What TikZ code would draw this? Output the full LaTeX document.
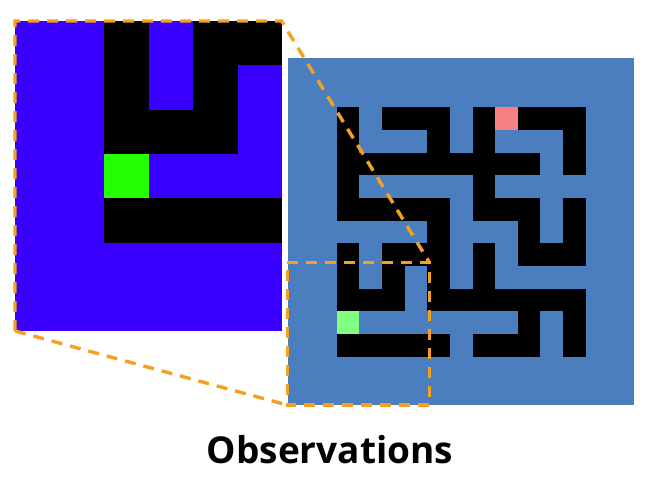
\documentclass[tikz,border=0pt]{standalone}
\usepackage{fontspec}
\setmainfont{Open Sans}
\definecolor{mazebg}{RGB}{75,126,190}
\definecolor{zoombg}{RGB}{58,0,255}
\definecolor{zoomgreen}{RGB}{36,255,4}
\definecolor{goalpink}{RGB}{248,128,128}
\definecolor{startgreen}{RGB}{128,255,128}
\definecolor{spyorange}{RGB}{245,160,30}
\tikzset{
  spyline/.style={draw=spyorange, line width=3.4pt, dash pattern=on 11pt off 8pt},
  wall/.style={fill=black},
  title/.style={font=\bfseries\fontsize{37}{44}\selectfont, anchor=base, inner sep=0pt}
}
\begin{document}
\begin{tikzpicture}[x=1pt,y=-1pt]
\useasboundingbox (0,0) rectangle (648,483);
% ---------- maze ----------
\def\mx{336.7}\def\my{107.3}\def\mw{22.636}\def\mh{22.67}
\fill[mazebg] (287.7,58.3) rectangle (634.3,405);
\foreach \r/\a/\b in {0/0/0,0/2/4,0/6/6,0/8/10,
  1/0/0,1/4/4,1/6/6,1/10/10,
  2/0/8,2/10/10,
  3/0/0,3/6/6,
  4/0/4,4/6/8,4/10/10,
  5/4/4,5/8/8,5/10/10,
  6/0/0,6/2/4,6/6/6,6/8/10,
  7/0/0,7/2/2,7/4/4,7/6/6,
  8/0/2,8/4/10,
  9/8/8,9/10/10,
  10/0/4,10/6/8,10/10/10}
  \fill[wall] ({\mx+\a*\mw},{\my+\r*\mh}) rectangle ({\mx+(\b+1)*\mw},{\my+(\r+1)*\mh});
\fill[goalpink] ({\mx+7*\mw},{\my}) rectangle ({\mx+8*\mw},{\my+\mh});
\fill[startgreen] ({\mx},{\my+9*\mh}) rectangle ({\mx+\mw},{\my+10*\mh});
% ---------- zoomed panel ----------
\def\px{104.3}\def\py{21}\def\pw{44.4}\def\ph{44.34}
\fill[zoombg] (15,21) rectangle (282,331);
\foreach \r/\a/\b in {0/0/0,0/2/3,1/0/0,1/2/2,2/0/2,4/0/3}
  \fill[wall] ({\px+\a*\pw},{\py+\r*\ph}) rectangle ({\px+(\b+1)*\pw},{\py+(\r+1)*\ph});
\fill[zoomgreen] ({\px},{\py+3*\ph}) rectangle ({\px+\pw},{\py+4*\ph});
% ---------- spy connectors ----------
\coordinate (pbl) at (15,331);
\coordinate (ptl) at (15,21);
\coordinate (ptr) at (281.5,21);
\coordinate (rtl) at (287.2,262.3);
\coordinate (rtr) at (429.3,262.3);
\coordinate (rbr) at (429.3,405);
\coordinate (rbl) at (287.2,405);
\draw[spyline] (pbl) -- (ptl) -- (ptr) -- (rtr);
\draw[spyline] (pbl) -- (rbl);
\draw[spyline] (rtl) -- (rtr) -- (rbr) -- (rbl) -- cycle;
% ---------- title ----------
\node[title] (obs) at (330,463) {Observations};
\end{tikzpicture}
\end{document}
